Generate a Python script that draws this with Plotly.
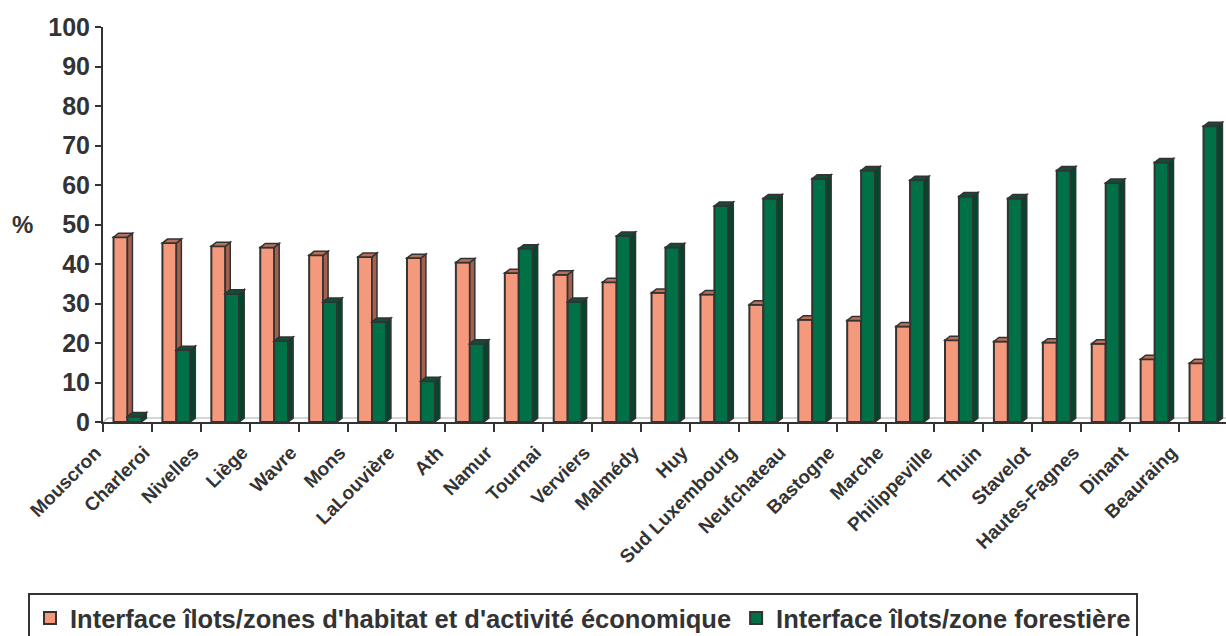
import plotly.graph_objects as go

# Communes (arrondissements) on the category axis
communes = [
    "Mouscron", "Charleroi", "Nivelles", "Liège", "Wavre", "Mons", "LaLouvière",
    "Ath", "Namur", "Tournai", "Verviers", "Malmédy", "Huy", "Sud Luxembourg",
    "Neufchateau", "Bastogne", "Marche", "Philippeville", "Thuin", "Stavelot",
    "Hautes-Fagnes", "Dinant", "Beauraing",
]

# Share (%) of islet perimeter bordering housing / economic activity areas
habitat = [46.8, 45.3, 44.5, 44.2, 42.2, 41.8, 41.5, 40.4, 37.7, 37.3, 35.4, 32.7,
           32.3, 29.7, 25.9, 25.7, 24.2, 20.7, 20.4, 20.1, 19.8, 15.9, 14.9]

# Share (%) of islet perimeter bordering forest
foret = [1.4, 18.2, 32.5, 20.5, 30.4, 25.3, 10.3, 19.8, 43.9, 30.4, 47.1, 44.2,
         54.7, 56.6, 61.6, 63.7, 61.2, 57.1, 56.6, 63.7, 60.5, 65.7, 74.9]

series_names = [
    "Interface îlots/zones d'habitat et d'activité économique",
    "Interface îlots/zone forestière",
]

y_ticks = list(range(0, 101, 10))

# Styling
FONT = "Liberation Sans, Arial, sans-serif"
TEXT = "#333333"
EDGE = "#333333"
SALMON, SALMON_SIDE, SALMON_TOP = "#F4997B", "#A5604D", "#B8705B"
GREEN, GREEN_SIDE, GREEN_TOP = "#007046", "#00472C", "#0C5137"

BARGAP = 0.43
W = (1 - BARGAP) / 2        # width of one bar in category units
DX = 0.102                  # pseudo-3D depth, horizontal (category units)
DY = 1.0                    # pseudo-3D depth, vertical (value units)

fig = go.Figure()
fig.add_trace(go.Bar(
    x=communes, y=habitat, name=series_names[0],
    marker=dict(color=SALMON, line=dict(color=EDGE, width=2)),
))
fig.add_trace(go.Bar(
    x=communes, y=foret, name=series_names[1],
    marker=dict(color=GREEN, line=dict(color=EDGE, width=2)),
))


def poly(points, fill, layer="above", width=1.5, color=EDGE):
    path = "M" + " L".join(f"{px:.4f},{py:.4f}" for px, py in points) + " Z"
    return dict(type="path", path=path, xref="x", yref="y", fillcolor=fill,
                line=dict(color=color, width=width), layer=layer)


shapes = []
# back edge of the chart floor
n = len(communes)
shapes.append(dict(type="path", xref="x", yref="y", layer="below",
                   path=f"M-0.5,0 L{-0.5 + DX},{DY} L{n},{DY}",
                   line=dict(color="#C8C8C8", width=1.5)))

for i, (h, f) in enumerate(zip(habitat, foret)):
    # salmon bar: left half of the group
    x0, x1 = i - W, i
    if f < h:
        # side face visible above the (shorter) green bar
        shapes.append(poly([(x1, f), (x1, h), (x1 + DX, h + DY), (x1 + DX, f + DY)], SALMON_SIDE))
        shapes.append(poly([(x0, h), (x1, h), (x1 + DX, h + DY), (x0 + DX, h + DY)], SALMON_TOP))
    else:
        shapes.append(poly([(x0, h), (x1, h), (x1, h + DY), (x0 + DX, h + DY)], SALMON_TOP))
    # green bar: right half of the group
    g0, g1 = i, i + W
    shapes.append(poly([(g1, 0), (g1, f), (g1 + DX, f + DY), (g1 + DX, DY)], GREEN_SIDE))
    shapes.append(poly([(g0, f), (g1, f), (g1 + DX, f + DY), (g0 + DX, f + DY)], GREEN_TOP))

fig.update_layout(
    width=1226, height=636,
    margin=dict(l=103, r=0, t=27, b=214, autoexpand=False),
    paper_bgcolor="white", plot_bgcolor="white",
    barmode="group", bargap=BARGAP, bargroupgap=0,
    font=dict(family=FONT, color=TEXT, weight="bold"),
    shapes=shapes,
    showlegend=True,
    legend=dict(
        orientation="h",
        x=(28 - 103) / 1123, y=(422 - 593) / 395, xanchor="left", yanchor="top",
        font=dict(family=FONT, size=25.5, color=TEXT, weight="bold"),
        bordercolor=EDGE, borderwidth=2, bgcolor="white",
        itemclick=False, tracegroupgap=0,
    ),
    annotations=[dict(
        text="%", xref="paper", yref="paper", x=-0.072, y=0.499,
        xanchor="center", yanchor="middle", showarrow=False,
        font=dict(family=FONT, size=24, color=TEXT, weight="bold"),
    )],
)

fig.update_xaxes(
    type="category", range=[-0.5, 22.46], automargin=False,
    tickson="boundaries", ticks="outside", ticklen=8, tickwidth=2, tickcolor=EDGE,
    showline=True, linecolor=EDGE, linewidth=2, showgrid=False,
    tickangle=-45, ticklabelshift=-32, ticklabelstandoff=10,
    tickfont=dict(family=FONT, size=19, color=TEXT, weight="bold"),
)
fig.update_yaxes(
    range=[0, 100], tickvals=y_ticks, ticks="outside", ticklen=6, tickwidth=2,
    tickcolor=EDGE, showline=True, linecolor=EDGE, linewidth=2, automargin=False,
    showgrid=False, zeroline=False,
    tickfont=dict(family=FONT, size=25, color=TEXT, weight="bold"),
)

fig.write_html("out.html")
